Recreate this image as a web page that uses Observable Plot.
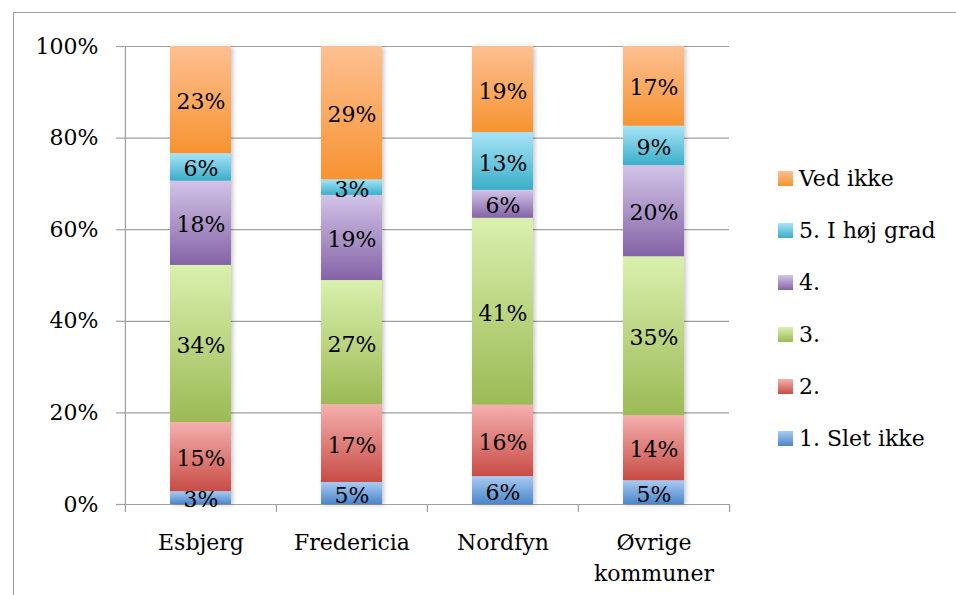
<!DOCTYPE html>
<html><head><meta charset="utf-8">
<script src="https://cdn.jsdelivr.net/npm/d3@7"></script>
<script src="https://cdn.jsdelivr.net/npm/@observablehq/plot@0.6"></script>
<style>
body{margin:0;background:#fff;}
#wrap{position:relative;width:956px;height:595px;overflow:hidden;font-family:"DejaVu Serif",serif;}
#border{position:absolute;left:13px;top:12px;right:-5px;bottom:-5px;border-left:1.5px solid #9c9c9c;border-top:1.5px solid #9c9c9c;pointer-events:none;}
#chart{position:absolute;left:0;top:0;}
#legend{position:absolute;left:778px;top:152px;}
.item{height:52px;display:flex;align-items:center;font-size:22px;color:#000;white-space:nowrap;}
.sw{width:15px;height:15px;margin-right:6px;flex:none;}
svg g[aria-label="bar"]{filter:drop-shadow(2px 1px 2px rgba(0,0,0,0.22));}
</style></head>
<body>
<div id="wrap"><div id="chart"></div><div id="border"></div><div id="legend"></div></div>
<script>
const categories = ["Esbjerg", "Fredericia", "Nordfyn", "Øvrige kommuner"];
const series = ["1. Slet ikke", "2.", "3.", "4.", "5. I høj grad", "Ved ikke"];
const esbjerg    = [2.8, 15.1, 34.3, 18.4, 6.0, 23.4];
const fredericia = [4.8, 17.0, 27.1, 18.6, 3.4, 29.1];
const nordfyn    = [6.1, 15.6, 40.8, 6.1, 12.6, 18.8];
const ovrige     = [5.2, 14.2, 34.7, 19.9, 8.6, 17.4];
const yTicks = [0, 20, 40, 60, 80, 100];
const topColors    = ["#a9cbf3", "#f5b0ae", "#daf0ae", "#d2c4e8", "#a8e4f7", "#fdc092"];
const bottomColors = ["#4b86c9", "#c84c46", "#9cba55", "#8463a6", "#3aaec9", "#f79331"];

const valuesByCat = [esbjerg, fredericia, nordfyn, ovrige];
const data = [];
categories.forEach((c, ci) => series.forEach((s, si) => data.push({cat: c, series: s, value: valuesByCat[ci][si]})));

const W = 956, H = 595, mL = 124, mR = 227, mT = 46, mB = 91;
const plotW = W - mL - mR, plotH = H - mT - mB;
const step = plotW / categories.length;
const grey = "#a0a0a0";
const FS = 22;

const chart = Plot.plot({
  width: W, height: H,
  marginLeft: mL, marginRight: mR, marginTop: mT, marginBottom: mB,
  style: {fontFamily: "'DejaVu Serif', serif", fontSize: FS + "px", background: "transparent"},
  x: {type: "band", domain: categories, paddingInner: 0.597, paddingOuter: 0.2985, align: 0.5, label: null},
  y: {domain: [0, 100], label: null},
  color: {domain: series, range: series.map((s, i) => `url(#grad${i})`)},
  marks: [
    Plot.gridY(yTicks, {stroke: grey, strokeOpacity: 1, strokeWidth: 1.2}),
    Plot.ruleX([categories[0]], {dx: -step / 2, stroke: grey, strokeWidth: 1.2}),
    Plot.ruleX(categories, {dx: -step / 2, stroke: grey, strokeWidth: 1.2, insetTop: plotH, insetBottom: -8}),
    Plot.ruleX([categories[categories.length - 1]], {dx: step / 2, stroke: grey, strokeWidth: 1.2, insetTop: plotH, insetBottom: -8}),
    Plot.axisY(yTicks, {tickSize: 8, tickPadding: 18, stroke: grey, strokeWidth: 1.2, fill: "#000", fontSize: FS, tickFormat: d => d + "%", label: null}),
    Plot.axisX({tickSize: 0, tickPadding: 23, fill: "#000", fontSize: FS, lineHeight: 1.41, tickFormat: d => d.replace(" ", "\n"), label: null}),
    Plot.barY(data, Plot.stackY({x: "cat", y: "value", fill: "series"})),
    Plot.text(data, Plot.stackY({x: "cat", y: "value", z: "series", text: d => Math.round(d.value) + "%", fontSize: FS, fill: "#000", dy: 2}))
  ]
});

const svg = d3.select(chart);
const defs = svg.insert("defs", ":first-child");
series.forEach((s, i) => {
  const g = defs.append("linearGradient").attr("id", "grad" + i)
    .attr("x1", 0).attr("y1", 0).attr("x2", 0).attr("y2", 1);
  g.append("stop").attr("offset", "0%").attr("stop-color", topColors[i]);
  g.append("stop").attr("offset", "100%").attr("stop-color", bottomColors[i]);
});
document.getElementById("chart").appendChild(chart);

const legend = d3.select("#legend");
series.slice().reverse().forEach(s => {
  const i = series.indexOf(s);
  const item = legend.append("div").attr("class", "item");
  item.append("div").attr("class", "sw").style("background", `linear-gradient(to bottom, ${topColors[i]}, ${bottomColors[i]})`);
  item.append("span").text(s);
});
</script>
</body></html>
